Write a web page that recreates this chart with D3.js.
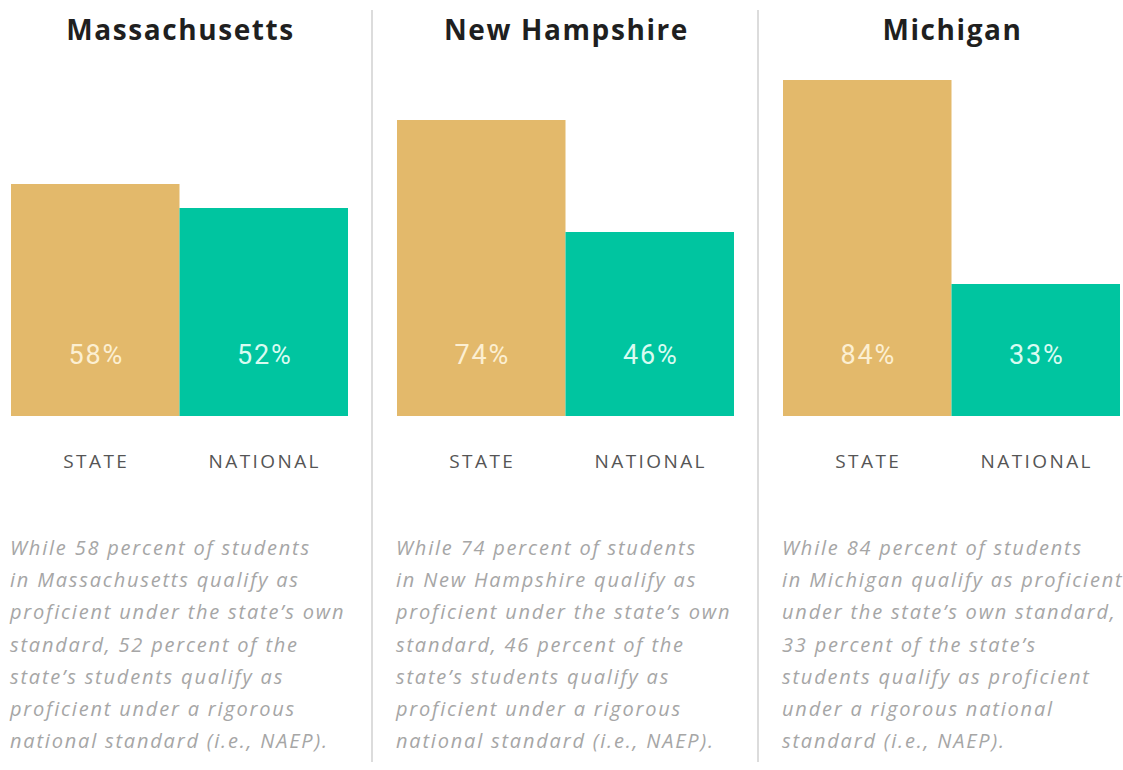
<!DOCTYPE html>
<html>
<head>
<meta charset="utf-8">
<script src="https://cdn.jsdelivr.net/npm/d3@7"></script>
<style>
  html, body { margin: 0; padding: 0; background: #ffffff; }
  svg { display: block; }
</style>
</head>
<body>
<svg id="chart" width="1123" height="770"></svg>
<script>
// ---- data ----
const states = ["Massachusetts", "New Hampshire", "Michigan"];
const categories = ["STATE", "NATIONAL"];
const stateValues = [58, 74, 84];
const nationalValues = [52, 46, 33];
const captions = [
  ["While 58 percent of students",
   "in Massachusetts qualify as",
   "proficient under the state\u2019s own",
   "standard, 52 percent of the",
   "state\u2019s students qualify as",
   "proficient under a rigorous",
   "national standard (i.e., NAEP)."],
  ["While 74 percent of students",
   "in New Hampshire qualify as",
   "proficient under the state\u2019s own",
   "standard, 46 percent of the",
   "state\u2019s students qualify as",
   "proficient under a rigorous",
   "national standard (i.e., NAEP)."],
  ["While 84 percent of students",
   "in Michigan qualify as proficient",
   "under the state\u2019s own standard,",
   "33 percent of the state\u2019s",
   "students qualify as proficient",
   "under a rigorous national",
   "standard (i.e., NAEP)."]
];

// ---- layout ----
const svg = d3.select("#chart");
const panelStep = 386;
const colors = { STATE: "#e3b96b", NATIONAL: "#00c5a0" };
const labelColors = { STATE: "#fcefd2", NATIONAL: "#d9fbf1" };

const x = d3.scaleBand().domain(categories).range([11, 348]).padding(0);
const y = d3.scaleLinear().domain([0, 100]).range([416, 16]);

// dividers
[1, 2].forEach(i => {
  svg.append("line")
    .attr("x1", i * panelStep - 14).attr("x2", i * panelStep - 14)
    .attr("y1", 10).attr("y2", 762)
    .attr("stroke", "#dcdcdc").attr("stroke-width", 2);
});

states.forEach((name, i) => {
  const g = svg.append("g").attr("transform", `translate(${i * panelStep},0)`);
  const data = [
    { cat: "STATE", v: stateValues[i] },
    { cat: "NATIONAL", v: nationalValues[i] }
  ];
  const cx = (x.range()[0] + x.range()[1]) / 2;

  g.append("text")
    .attr("x", cx + 1).attr("y", 40)
    .attr("text-anchor", "middle")
    .attr("font-family", "'Open Sans', Lato, sans-serif")
    .attr("font-weight", 700)
    .attr("font-size", 28)
    .attr("letter-spacing", 1.6)
    .attr("fill", "#1f1f1f")
    .text(name);

  g.selectAll("rect.bar").data(data).enter().append("rect")
    .attr("class", "bar")
    .attr("x", d => x(d.cat))
    .attr("width", x.bandwidth())
    .attr("y", d => y(d.v))
    .attr("height", d => y(0) - y(d.v))
    .attr("fill", d => colors[d.cat]);

  g.selectAll("text.val").data(data).enter().append("text")
    .attr("class", "val")
    .attr("x", d => x(d.cat) + x.bandwidth() / 2 + 1)
    .attr("y", 364)
    .attr("text-anchor", "middle")
    .attr("font-family", "Roboto, 'Open Sans', sans-serif")
    .attr("font-size", 27)
    .attr("letter-spacing", 1.8)
    .attr("fill", d => labelColors[d.cat])
    .text(d => d.v + "%");

  g.selectAll("text.cat").data(data).enter().append("text")
    .attr("class", "cat")
    .attr("x", d => x(d.cat) + x.bandwidth() / 2 + 1)
    .attr("y", 468)
    .attr("text-anchor", "middle")
    .attr("font-family", "'Open Sans', Lato, sans-serif")
    .attr("font-size", 19)
    .attr("letter-spacing", 2.4)
    .attr("fill", "#555555")
    .text(d => d.cat);

  g.selectAll("text.cap").data(captions[i]).enter().append("text")
    .attr("class", "cap")
    .attr("x", 10)
    .attr("y", (d, j) => 555 + j * 32.2)
    .attr("font-family", "'Open Sans', Lato, sans-serif")
    .attr("font-style", "italic")
    .attr("font-size", 20)
    .attr("letter-spacing", 1.8)
    .attr("fill", "#a6a6a6")
    .text(d => d);
});
</script>
</body>
</html>
